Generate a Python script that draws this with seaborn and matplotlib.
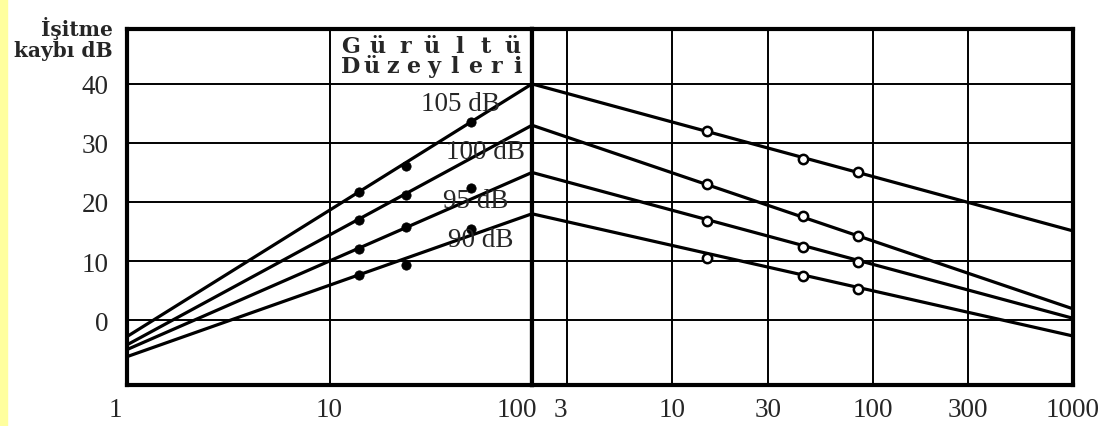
import numpy as np
import pandas as pd
import seaborn as sns
import matplotlib.pyplot as plt
from matplotlib.patches import Rectangle
from matplotlib.transforms import ScaledTranslation

# --- data ---
levels = ['105 dB', '100 dB', '95 dB', '90 dB']

# straight lines: left panel from x=1 to x=100, right panel from x=2 to x=1000
left_line_x = [1, 100]
right_line_x = [2, 1000]
line_start = [-2.8, -4.2, -5.0, -6.2]
line_peak = [40, 33, 25, 18]
line_end = [15.1, 1.9, 0.3, -2.7]

# measured points (filled dots left, open circles right)
left_dot_x = [14, 24, 50]
left_dot_y = {
    '105 dB': [21.7, 26.1, 33.6],
    '100 dB': [16.9, 21.2, np.nan],
    '95 dB': [12.0, 15.8, 22.4],
    '90 dB': [7.6, 9.3, 15.4],
}
right_dot_x = [15, 45, 85]
right_dot_y = {
    '105 dB': [32.0, 27.3, 25.1],
    '100 dB': [23.1, 17.6, 14.2],
    '95 dB': [16.8, 12.4, 9.8],
    '90 dB': [10.5, 7.5, 5.3],
}

# label positions (x, y in left-panel data units)
label_x = [44.5, 59, 52.7, 56]
label_y = [36.6, 28.6, 20.2, 13.7]

y_ticks = [0, 10, 20, 30, 40]
left_ticks = [1, 10, 100]
right_ticks = [3, 10, 30, 100, 300, 1000]

# --- build frames ---
rows_l, rows_r = [], []
for i, lv in enumerate(levels):
    rows_l += [(left_line_x[0], line_start[i], lv), (left_line_x[1], line_peak[i], lv)]
    rows_r += [(right_line_x[0], line_peak[i], lv), (right_line_x[1], line_end[i], lv)]
lines_l = pd.DataFrame(rows_l, columns=['x', 'y', 'level'])
lines_r = pd.DataFrame(rows_r, columns=['x', 'y', 'level'])

dots_l = pd.DataFrame([(x, y, lv) for lv in levels for x, y in zip(left_dot_x, left_dot_y[lv])],
                      columns=['x', 'y', 'level']).dropna()
dots_r = pd.DataFrame([(x, y, lv) for lv in levels for x, y in zip(right_dot_x, right_dot_y[lv])],
                      columns=['x', 'y', 'level'])

sns.set_style('white')
plt.rcParams['font.family'] = ['Liberation Serif', 'DejaVu Serif']

W, H = 1102, 427
fig = plt.figure(figsize=(W / 100, H / 100), dpi=100)
fig.patches.append(Rectangle((0, 0), 7 / W, 1, transform=fig.transFigure,
                             color='#ffff9e', zorder=0))

bot, top = 1 - 386 / H, 1 - 30 / H
ax1 = fig.add_axes([127 / W, bot, (532 - 127) / W, top - bot])
ax2 = fig.add_axes([532 / W, bot, (1073 - 532) / W, top - bot])

for ax, xlim, ticks, grid_x in [(ax1, (1, 100), left_ticks, [10]),
                                (ax2, (2, 1000), right_ticks, [3, 10, 30, 100, 300])]:
    ax.set_xscale('log')
    ax.set_xlim(*xlim)
    for gx in grid_x:
        ax.axvline(gx, color='black', lw=1.4, zorder=1)
    for gy in y_ticks:
        ax.axhline(gy, color='black', lw=1.4, zorder=1)
    for s in ax.spines.values():
        s.set_linewidth(3)
        s.set_color('black')
    ax.minorticks_off()
    ax.set_xticks(ticks)
    ax.set_xticklabels([str(t) for t in ticks], fontsize=19.5)
    ax.tick_params(axis='both', length=0, pad=9)

sns.lineplot(data=lines_l, x='x', y='y', units='level', estimator=None,
             color='black', lw=2.3, ax=ax1, zorder=3)
sns.lineplot(data=lines_r, x='x', y='y', units='level', estimator=None,
             color='black', lw=2.3, ax=ax2, zorder=3)
sns.scatterplot(data=dots_l, x='x', y='y', color='black', s=45,
                edgecolor='black', ax=ax1, zorder=4)
sns.scatterplot(data=dots_r, x='x', y='y', facecolor='white', s=45,
                edgecolor='black', linewidth=1.8, ax=ax2, zorder=4)

for ax in (ax1, ax2):
    ax.set_xlabel('')
    ax.set_ylabel('')
    ax.set_ylim(-11, 49.3)

ax1.set_yticks(y_ticks)
ax1.set_yticklabels([str(t) for t in y_ticks], fontsize=19.5)
ax1.tick_params(axis='y', pad=13)
ax2.set_yticks([])

labs = ax1.get_xticklabels()
labs[0].set_ha('right')
labs[0].set_transform(labs[0].get_transform() + ScaledTranslation(-5 / 100, 0, fig.dpi_scale_trans))
labs[2].set_ha('right')
labs[2].set_transform(labs[2].get_transform() + ScaledTranslation(5 / 100, 0, fig.dpi_scale_trans))
ax2.get_xticklabels()[0].set_ha('right')

for lv, lx, ly in zip(levels, label_x, label_y):
    ax1.text(lx, ly, lv, fontsize=19.5, ha='center', va='center', zorder=5)

# y-axis title
fig.text(113 / W, 1 - 29 / H, 'İşitme', family='DejaVu Serif', fontsize=14.5,
         fontweight='bold', ha='right', va='center')
fig.text(113 / W, 1 - 51 / H, 'kaybı dB', family='DejaVu Serif', fontsize=14.5,
         fontweight='bold', ha='right', va='center')

# letter-spaced box title
for i, ch in enumerate('Gürültü'):
    fig.text((351 + i * 27) / W, 1 - 47 / H, ch, family='DejaVu Serif',
             fontsize=16, fontweight='bold', ha='center', va='center')
for i, ch in enumerate('Düzeyleri'):
    fig.text((351 + i * 20.75) / W, 1 - 67 / H, ch, family='DejaVu Serif',
             fontsize=16, fontweight='bold', ha='center', va='center')

fig.savefig('out.png', dpi=100)
